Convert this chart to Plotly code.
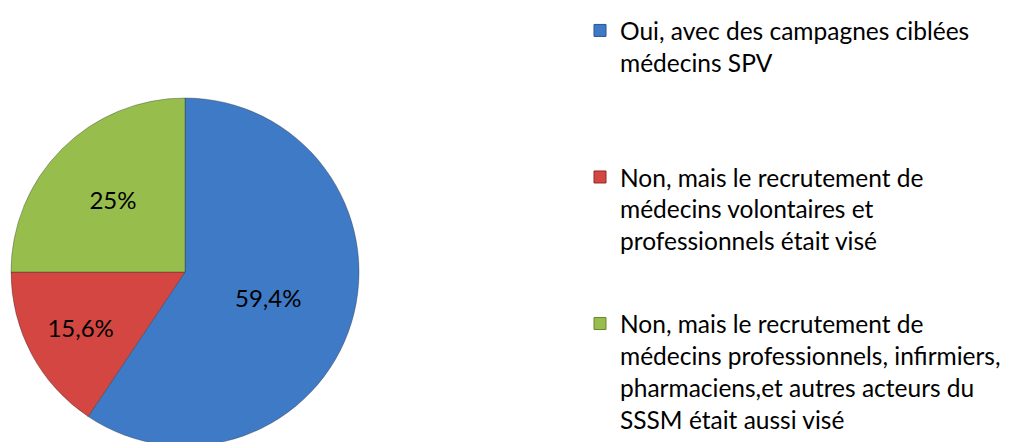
import plotly.graph_objects as go

labels = [
    "Oui, avec des campagnes ciblées<br>médecins SPV",
    "Non, mais le recrutement de<br>médecins volontaires et<br>professionnels était visé",
    "Non, mais le recrutement de<br>médecins professionnels, infirmiers,<br>pharmaciens,et autres acteurs du<br>SSSM était aussi visé",
]
values = [59.4, 15.6, 25]
colors = ["#3E7AC6", "#D44641", "#97BE4C"]
edge_colors = ["#2A5590", "#8E2A27", "#6A8530"]

texts = [f"{v:g}".replace(".", ",") + "%" for v in values]

W, H = 1012, 442
fig = go.Figure()
fig.add_trace(go.Pie(
    labels=[l.replace("<br>", " ") for l in labels],
    values=values,
    text=texts,
    textinfo="text",
    textposition="inside",
    insidetextfont=dict(color="black", size=24, family="Lato"),
    marker=dict(colors=colors, line=dict(color="rgba(40,40,40,0.35)", width=1)),
    sort=False,
    direction="clockwise",
    rotation=0,
    hoverinfo="label+percent",
    showlegend=False,
    domain=dict(x=[3 / W, 351 / W], y=[4 / H, 352 / H]),
))

# legend entries (one group per slice so spacing can be set)
max_lines = 3
for i, (lab, col, ec) in enumerate(zip(labels, colors, edge_colors)):
    n = lab.count("<br>") + 1
    padded = lab + "<br> " * max(0, max_lines - n)
    fig.add_trace(go.Scatter(
        x=[None], y=[None], mode="markers", name=padded,
        legendgroup=f"g{i}",
        marker=dict(symbol="square", size=12, color=col, line=dict(color=ec, width=1)),
        hoverinfo="skip",
    ))

fig.update_layout(
    width=W, height=H,
    margin=dict(l=0, r=0, t=0, b=0),
    paper_bgcolor="white",
    plot_bgcolor="white",
    font=dict(family="Lato", size=24.5, color="black"),
    xaxis=dict(visible=False),
    yaxis=dict(visible=False),
    showlegend=True,
    legend=dict(x=572 / W, xanchor="left", y=1, yanchor="top",
                valign="top", tracegroupgap=48, traceorder="grouped",
                font=dict(size=24.5, family="Lato"),
                bgcolor="rgba(0,0,0,0)"),
)
fig.write_html("out.html")
